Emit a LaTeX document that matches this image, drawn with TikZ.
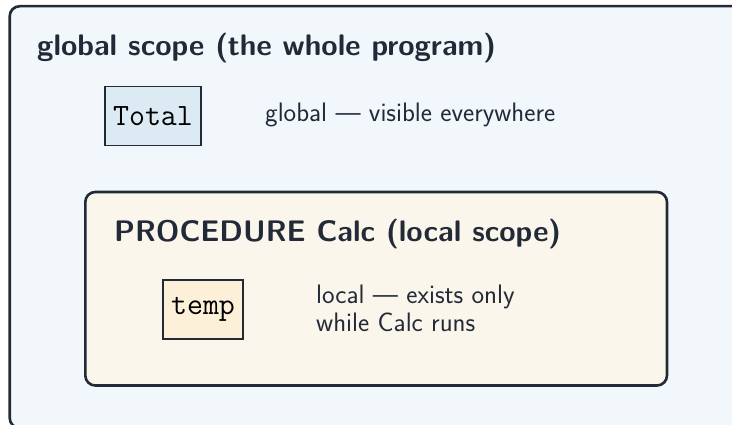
\documentclass[tikz,border=0pt]{standalone}
\usepackage{xcolor}
\definecolor{inkc}{HTML}{222A38}
\definecolor{outerfill}{HTML}{F2F7FC}
\definecolor{innerfill}{HTML}{FBF6EC}
\definecolor{totalfill}{HTML}{DBEAF3}
\definecolor{tempfill}{HTML}{FCF0D8}
\tikzset{
  scopebox/.style={draw=inkc, line width=2.6pt, rounded corners=10pt},
  varbox/.style={draw=inkc, line width=1.3pt, inner sep=0pt, minimum height=59pt,
    font=\ttfamily\fontsize{31}{34}\selectfont, text=black},
  titletext/.style={anchor=base west, inner sep=0pt, text=inkc,
    font=\sffamily\bfseries\fontsize{29.7}{33}\selectfont},
  notetext/.style={anchor=base west, inner sep=0pt, text=inkc, align=left,
    font=\sffamily\fontsize{26.7}{27.7}\selectfont},
}
\begin{document}
\begin{tikzpicture}[x=1pt,y=-1pt]
\useasboundingbox (0,0) rectangle (732,425);
\begin{scope}
\clip (0,0) rectangle (732,425);
\draw[scopebox, fill=outerfill] (9.7,6.2) rectangle (745,428);
\end{scope}
\node[titletext] (gtitle) at (37,56) {global scope (the whole program)};
\node[varbox, fill=totalfill, minimum width=96pt] (total) at (153,116) {Total};
\node[notetext] (gnote) at (265,122) {global --- visible everywhere};
\draw[scopebox, fill=innerfill] (85.3,192) rectangle (667,385.5);
\node[titletext] (ptitle) at (114,242) {PROCEDURE Calc (local scope)};
\node[varbox, fill=tempfill, minimum width=80pt] (temp) at (203,309.5) {temp};
\node[notetext] (lnote) at (316,331.7) {local --- exists only\\while Calc runs};
\end{tikzpicture}
\end{document}
